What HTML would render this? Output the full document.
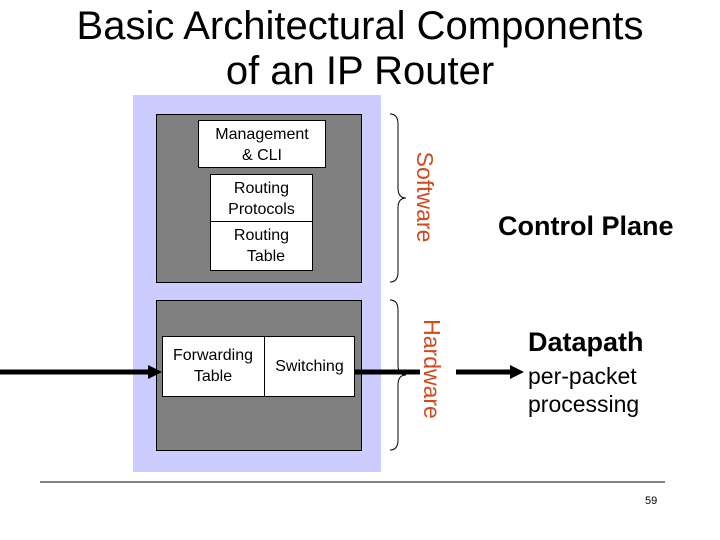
<!DOCTYPE html>
<html><head><style>
body{margin:0;width:720px;height:540px;background:#fff;position:relative;overflow:hidden;font-family:"Liberation Sans",Arial,sans-serif}
div{position:absolute;box-sizing:border-box}
.t{text-align:center;color:#000}
.w{background:#fff;border:1px solid #000}
</style></head><body>
<div class="t" style="left:0;top:4px;width:720px;font-size:40px;line-height:45px">Basic Architectural Components<br>of an IP Router</div>
<div style="left:133px;top:95px;width:248px;height:377px;background:#ccccff"></div>
<div style="left:156px;top:114px;width:206px;height:169px;background:#808080;border:1px solid #000"></div>
<div style="left:156px;top:300px;width:206px;height:151px;background:#808080;border:1px solid #000"></div>
<div class="w t" style="left:198px;top:120px;width:128px;height:48px;font-size:16px;line-height:21px;padding-top:3px">Management<br>&amp; CLI</div>
<div class="w t" style="left:210px;top:174px;width:103px;height:97px;font-size:16px;line-height:21px;padding-top:3px">Routing<br>Protocols</div>
<div style="left:210px;top:221px;width:103px;height:1px;background:#000"></div>
<div class="t" style="left:210px;top:225px;width:103px;font-size:16px;line-height:21px">Routing<br>&nbsp;&nbsp;Table</div>
<div class="w" style="left:162px;top:336px;width:193px;height:61px"></div>
<div style="left:264px;top:336px;width:1px;height:61px;background:#000"></div>
<div class="t" style="left:162px;top:345px;width:102px;font-size:16px;line-height:21px">Forwarding<br>Table</div>
<div class="t" style="left:265px;top:356px;width:89px;font-size:16px;line-height:21px">Switching</div>
<svg style="position:absolute;left:0;top:0" width="720" height="540">
<line x1="0" y1="372" x2="150" y2="372" stroke="#000" stroke-width="5"/>
<polygon points="148,365 162,372 148,379" fill="#000"/>
<line x1="355" y1="372" x2="420" y2="372" stroke="#000" stroke-width="5"/>
<line x1="456" y1="372" x2="512" y2="372" stroke="#000" stroke-width="5"/>
<polygon points="510,365 524,372 510,379" fill="#000"/>
<path d="M390,114 Q398,114 398,124 L398,188 Q398,198 406,198 Q398,198 398,208 L398,272 Q398,282 390,282" fill="none" stroke="#000" stroke-width="1"/>
<path d="M390,300 Q398,300 398,310 L398,365 Q398,375 406,375 Q398,375 398,385 L398,440 Q398,450 390,450" fill="none" stroke="#000" stroke-width="1"/>
<line x1="40" y1="482" x2="665" y2="482" stroke="#000" stroke-width="1"/>
</svg>
<div style="left:365px;top:184px;width:120px;height:26px;transform:rotate(90deg);color:#d04a20;font-size:23px;text-align:center;line-height:26px">Software</div>
<div style="left:372px;top:356px;width:120px;height:26px;transform:rotate(90deg);color:#d04a20;font-size:23px;text-align:center;line-height:26px">Hardware</div>
<div style="left:498px;top:211px;font-size:27px;font-weight:bold;white-space:nowrap">Control Plane</div>
<div style="left:528px;top:327px;font-size:27px;font-weight:bold">Datapath</div>
<div style="left:528px;top:362px;font-size:23px;line-height:28px;white-space:nowrap">per-packet<br>processing</div>
<div style="left:645px;top:495px;font-size:11px">59</div>
</body></html>
